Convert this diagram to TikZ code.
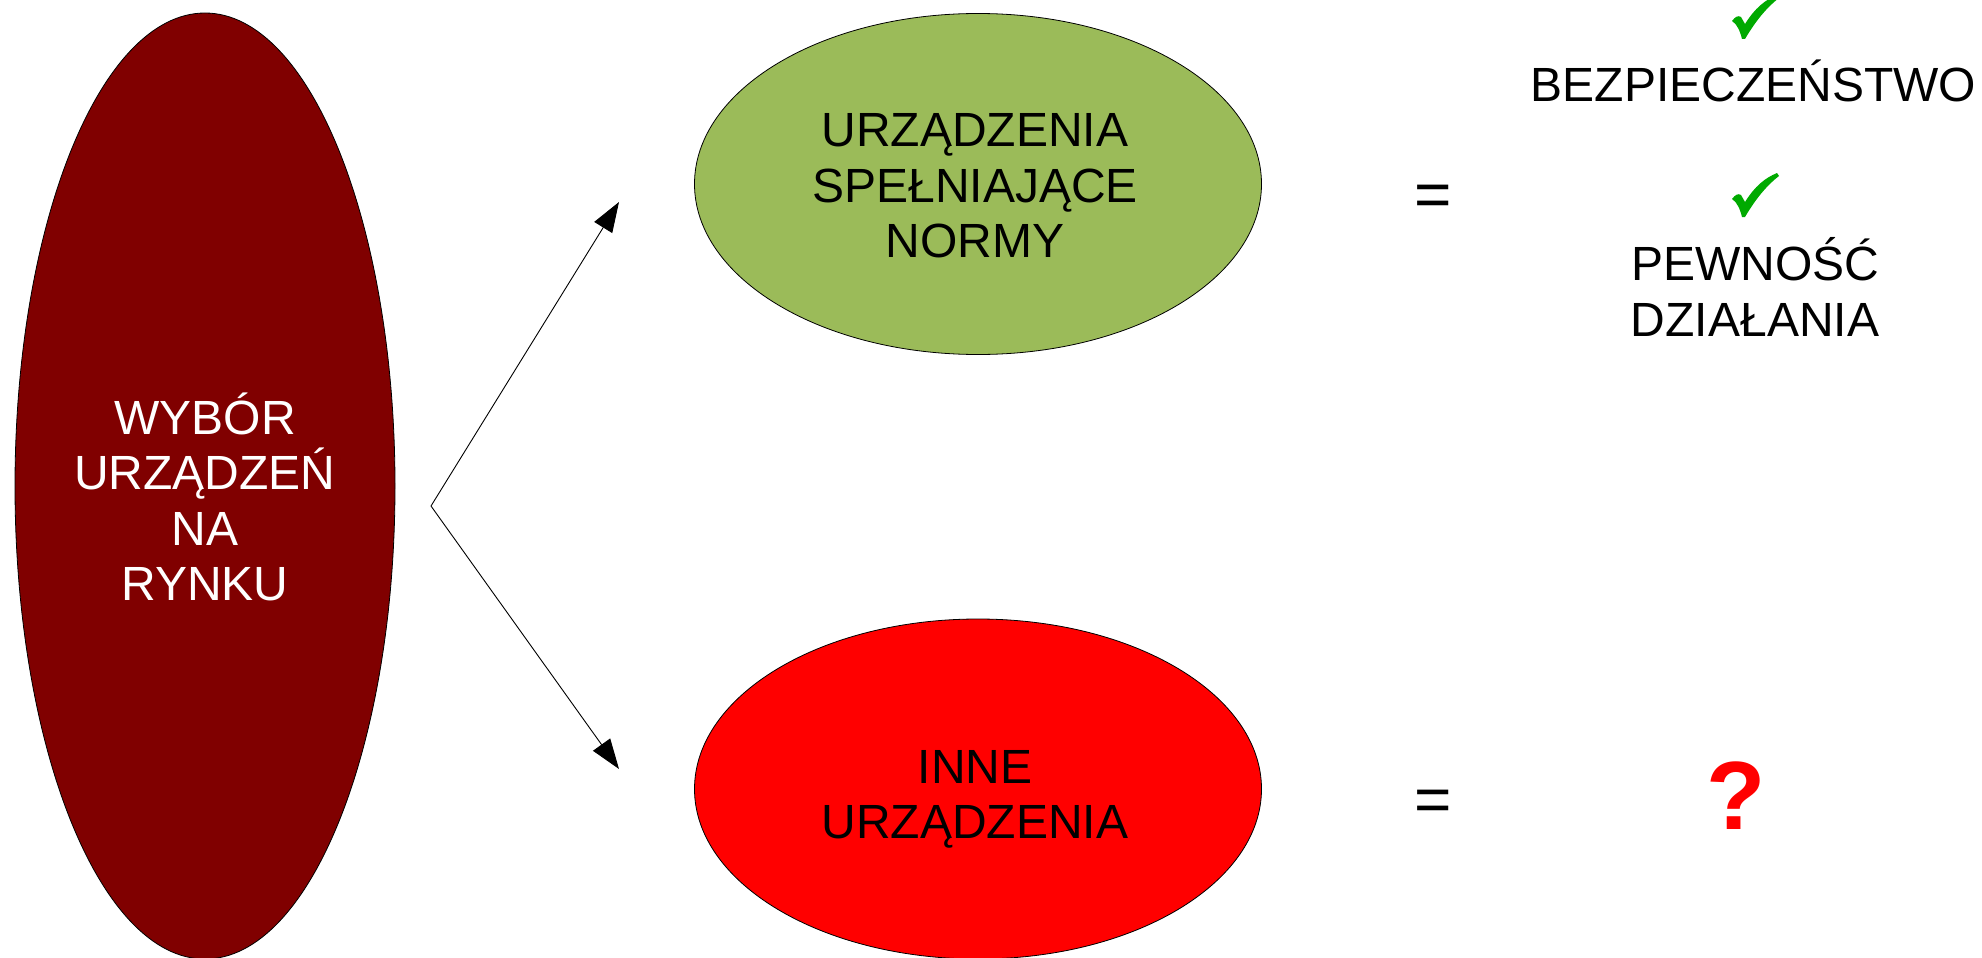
\documentclass[tikz,border=0pt]{standalone}
\usepackage{fontspec}
\setmainfont{Liberation Sans}
\usetikzlibrary{shapes.geometric,arrows.meta}
\definecolor{wybcol}{HTML}{800000}
\definecolor{okcol}{HTML}{9BBB59}
\definecolor{badcol}{HTML}{FF0000}
\definecolor{chkcol}{HTML}{00AA00}
\begin{document}
\begin{tikzpicture}[x=1pt,y=-1pt,
  oval/.style={ellipse, draw=black, line width=0.8pt, inner sep=0pt},
  lbl/.style={align=center, inner sep=0pt, font=\fontsize{48}{55.5}\selectfont},
  conn/.style={line width=0.9pt, -{Triangle[length=30pt,width=21pt]}},
  eqsign/.style={font=\fontsize{64}{70}\selectfont, inner sep=0pt, anchor=base},
  chk/.pic={\fill[chkcol] (-13,-18) .. controls (-10,-22) and (-7,-24) .. (-4,-22)
     -- (0,-15) .. controls (10,-31) and (20,-39) .. (32,-44) -- (34,-41)
     .. controls (21,-31) and (10,-17) .. (0,0) -- (-3,0)
     .. controls (-5,-8) and (-8,-15) .. (-13,-18) -- cycle;}
]
\useasboundingbox (0,0) rectangle (1982,958);
\clip (0,0) rectangle (1982,958);
% ellipses
\node[oval, fill=wybcol, minimum width=380pt, minimum height=946pt] (w) at (205,486) {};
\node[oval, fill=okcol, minimum width=567pt, minimum height=341pt] (g) at (978,184) {};
\node[oval, fill=badcol, minimum width=567pt, minimum height=340pt] (r) at (978,789) {};
% texts
\node[lbl, text=white] (wt) at (w.center) [yshift=-11pt] {WYBÓR\\URZĄDZEŃ\\NA\\RYNKU};
\node[lbl] (gt) at (975,186) {URZĄDZENIA\\SPEŁNIAJĄCE\\NORMY};
\node[lbl] (rt) at (975,799.5) {INNE\\URZĄDZENIA};
\node[lbl, anchor=base] (bt) at (1753.5,101) {BEZPIECZEŃSTWO};
\node[lbl] (pt) at (1755,287) {PEWNOŚĆ\\DZIAŁANIA};
% connectors
\coordinate (v) at (431,506);
\coordinate (tu) at (619,202);
\coordinate (td) at (619,769);
\draw[conn] (v) -- (tu);
\draw[conn] (v) -- (td);
% equals signs
\node[eqsign] (e1) at (1433,216.5) {=};
\node[eqsign] (e2) at (1433,821.5) {=};
% question mark
\node[inner sep=0pt, anchor=base, text=badcol, font=\bfseries\fontsize{97}{100}\selectfont] (q) at (1736.5,829) {?};
% check marks
\pic at (1745,39) {chk};
\pic at (1745,217) {chk};
\end{tikzpicture}
\end{document}
